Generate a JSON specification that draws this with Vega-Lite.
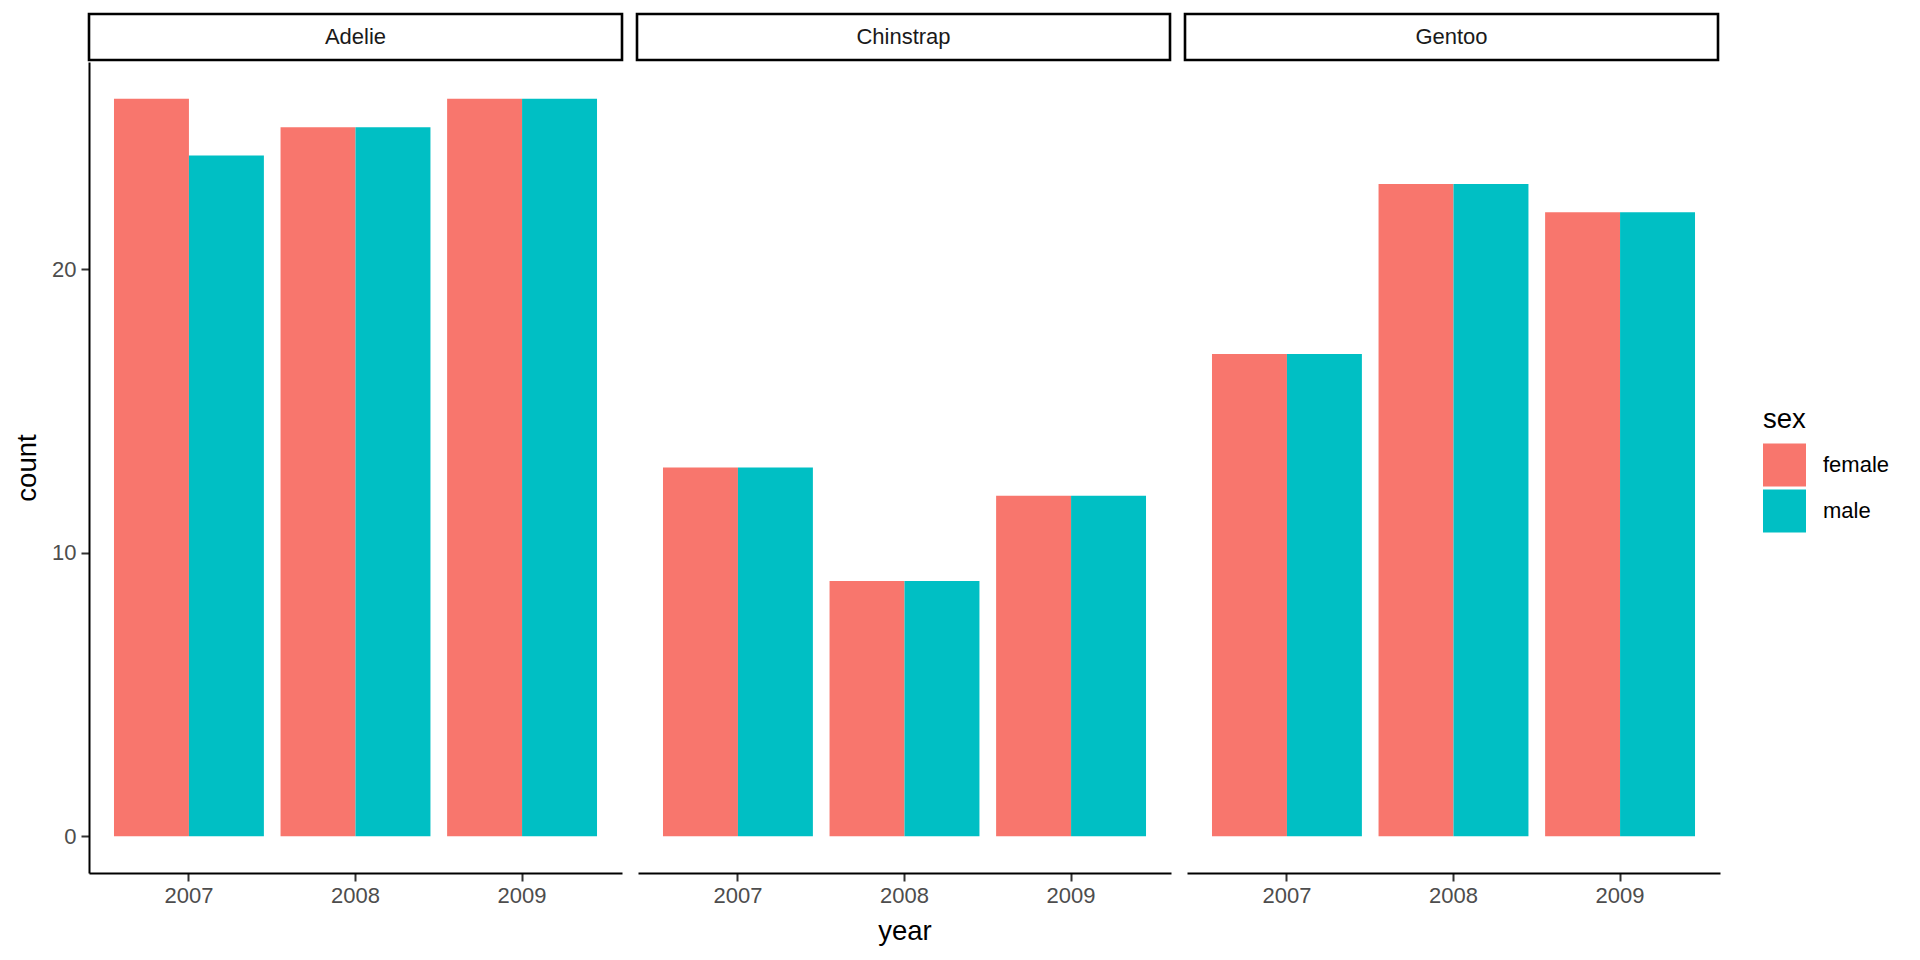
{
  "$schema": "https://vega.github.io/schema/vega-lite/v6.json",
  "background": "white",
  "padding": {"left": 13, "top": 12, "right": 0, "bottom": 0},
  "autosize": {"type": "pad"},
  "config": {
    "font": "Liberation Sans",
    "view": {"stroke": null},
    "axis": {"grid": false}
  },
  "datasets": {
    "strip": [
      {"species": "Adelie"},
      {"species": "Chinstrap"},
      {"species": "Gentoo"}
    ],
    "counts": [
      {"species": "Adelie", "year": "2007", "sex": "female", "count": 26},
      {"species": "Adelie", "year": "2007", "sex": "male", "count": 24},
      {"species": "Adelie", "year": "2008", "sex": "female", "count": 25},
      {"species": "Adelie", "year": "2008", "sex": "male", "count": 25},
      {"species": "Adelie", "year": "2009", "sex": "female", "count": 26},
      {"species": "Adelie", "year": "2009", "sex": "male", "count": 26},
      {"species": "Chinstrap", "year": "2007", "sex": "female", "count": 13},
      {"species": "Chinstrap", "year": "2007", "sex": "male", "count": 13},
      {"species": "Chinstrap", "year": "2008", "sex": "female", "count": 9},
      {"species": "Chinstrap", "year": "2008", "sex": "male", "count": 9},
      {"species": "Chinstrap", "year": "2009", "sex": "female", "count": 12},
      {"species": "Chinstrap", "year": "2009", "sex": "male", "count": 12},
      {"species": "Gentoo", "year": "2007", "sex": "female", "count": 17},
      {"species": "Gentoo", "year": "2007", "sex": "male", "count": 17},
      {"species": "Gentoo", "year": "2008", "sex": "female", "count": 23},
      {"species": "Gentoo", "year": "2008", "sex": "male", "count": 23},
      {"species": "Gentoo", "year": "2009", "sex": "female", "count": 22},
      {"species": "Gentoo", "year": "2009", "sex": "male", "count": 22}
    ]
  },
  "spacing": 0,
  "vconcat": [
    {
      "data": {"name": "strip"},
      "facet": {"column": {"field": "species", "type": "nominal", "header": {"labels": false, "title": null}}},
      "spacing": 11,
      "spec": {
        "width": 533,
        "height": 46,
        "view": {"stroke": "black", "strokeWidth": 2.6, "fill": "white"},
        "mark": {"type": "text", "fontSize": 22, "color": "#1a1a1a", "baseline": "middle", "align": "center"},
        "encoding": {"text": {"field": "species", "type": "nominal"}}
      }
    },
    {
      "data": {"name": "counts"},
      "facet": {
        "column": {
          "field": "species",
          "type": "nominal",
          "header": {"labels": false, "title": "year", "titleOrient": "bottom", "titleFontSize": 27.5, "titleFontWeight": "normal", "titleColor": "black", "titlePadding": 2, "titleFont": "Liberation Sans"}
        }
      },
      "spacing": 16,
      "spec": {
        "width": 533,
        "height": 811,
        "mark": {"type": "bar"},
        "encoding": {
          "x": {
            "field": "year",
            "type": "nominal",
            "scale": {"paddingInner": 0.1, "paddingOuter": 0.15},
            "axis": {
              "title": null,
              "labelAngle": 0,
              "labelFontSize": 22,
              "labelColor": "#4d4d4d",
              "labelPadding": 4,
              "tickSize": 8,
              "tickWidth": 2,
              "tickColor": "#333333",
              "domainColor": "black",
              "domainWidth": 2
            }
          },
          "xOffset": {"field": "sex", "type": "nominal", "scale": {"paddingInner": 0, "paddingOuter": 0}},
          "y": {
            "field": "count",
            "type": "quantitative",
            "scale": {"domain": [-1.3, 27.3], "nice": false, "zero": false},
            "axis": {
              "values": [0, 10, 20],
              "title": "count",
              "titleFontSize": 27.5,
              "titleFontWeight": "normal",
              "titleColor": "black",
              "titlePadding": 10,
              "labelFontSize": 22,
              "labelColor": "#4d4d4d",
              "labelPadding": 5,
              "tickSize": 8,
              "tickWidth": 2,
              "tickColor": "#333333",
              "domainColor": "black",
              "domainWidth": 2
            }
          },
          "color": {
            "field": "sex",
            "type": "nominal",
            "scale": {"domain": ["female", "male"], "range": ["#F8766D", "#00BFC4"]},
            "legend": {
              "orient": "none",
              "legendX": 1674,
              "legendY": 392,
              "title": "sex",
              "titleFontSize": 27.5,
              "titleFontWeight": "normal",
              "titleColor": "black",
              "titlePadding": 10,
              "labelFontSize": 22,
              "labelColor": "black",
              "labelOffset": 17,
              "symbolType": "square",
              "symbolSize": 1849,
              "symbolStrokeWidth": 0,
              "symbolOpacity": 1,
              "rowPadding": 3,
              "padding": 0
            }
          }
        }
      }
    }
  ]
}
